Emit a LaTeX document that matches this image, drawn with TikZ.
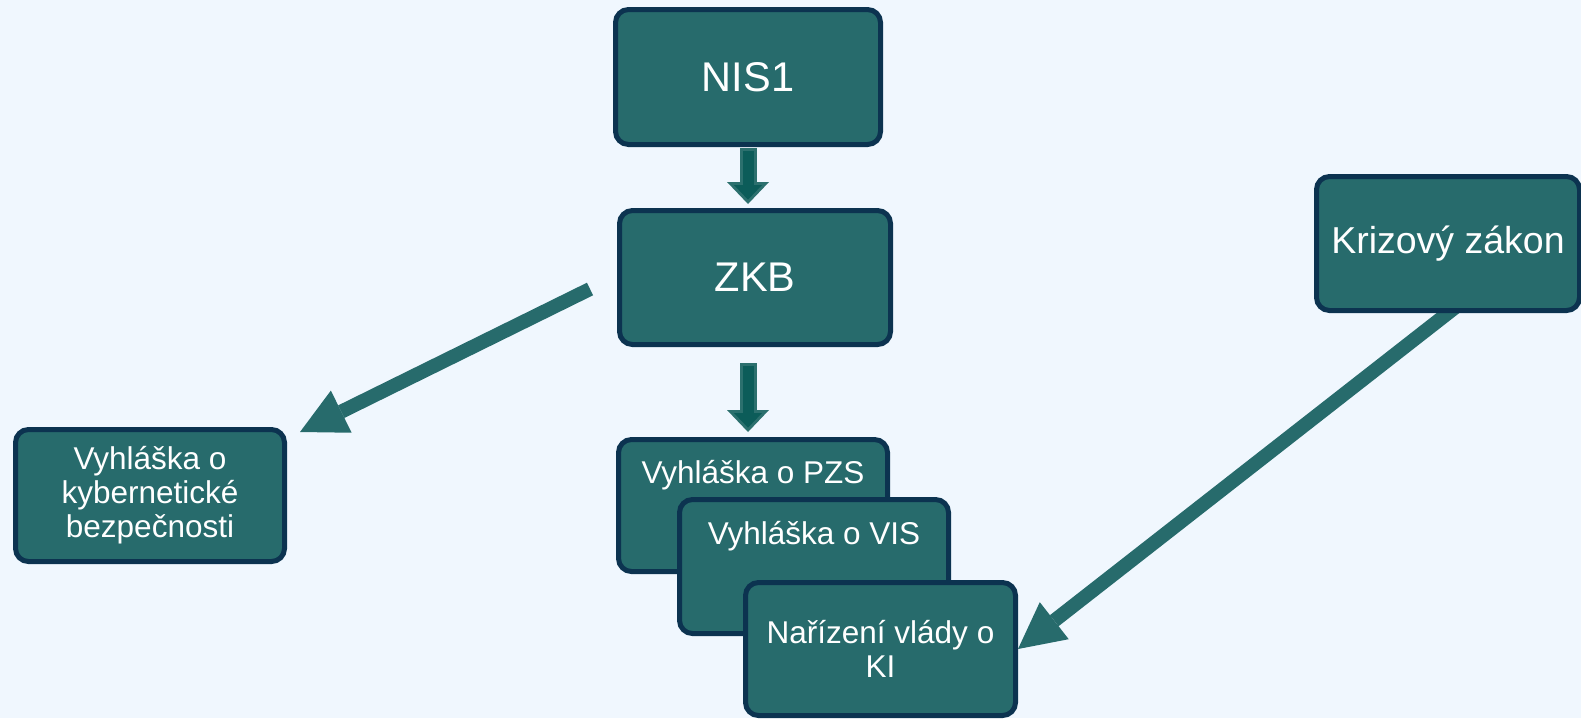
\documentclass[tikz,border=0pt]{standalone}
\usepackage{fontspec}
\setmainfont{Liberation Sans}
\usetikzlibrary{arrows.meta,calc}

\definecolor{pagebg}{RGB}{240,247,254}
\definecolor{boxfill}{RGB}{39,107,108}
\definecolor{boxline}{RGB}{12,51,80}
\definecolor{arrowdark}{RGB}{12,92,89}
\definecolor{arrowlight}{RGB}{44,112,110}

\pgfdeclarelayer{back}
\pgfsetlayers{back,main}

\tikzset{
  lawbox/.style={draw=boxline, fill=boxfill, line width=5pt, rounded corners=13pt,
                 text=white, align=center, inner sep=0pt},
  bigtext/.style={font=\fontsize{41.5}{50}\selectfont},
  midtext/.style={font=\fontsize{37.5}{42}\selectfont},
  smalltext/.style={font=\fontsize{31.5}{34}\selectfont},
  boxlabel/.style={text=white, inner sep=0pt, anchor=base, font=\fontsize{31.5}{34}\selectfont},
  bigarrow/.style={draw=boxfill, line width=14pt,
                   -{Triangle[width=47pt,length=46pt,line width=0pt]}},
  stepout/.style={draw=arrowlight, line width=17pt,
                  -{Triangle[width=42pt,length=22pt,line width=0pt]}},
  stepin/.style={draw=arrowdark, line width=11pt,
                 -{Triangle[width=28pt,length=14.7pt,line width=0pt]}},
}

\begin{document}
\begin{tikzpicture}[x=1pt,y=-1pt]
\useasboundingbox (0,0) rectangle (1581,718);
\begin{pgfonlayer}{back}
  \fill[pagebg] (0,0) rectangle (1581,718);
\end{pgfonlayer}

% top chain
\node[lawbox, bigtext, minimum width=265pt, minimum height=135pt] (nis) at (748,77) {NIS1};
\node[lawbox, bigtext, minimum width=271pt, minimum height=134pt] (zkb) at (755,277.5) {ZKB};

% decree on cyber security
\node[lawbox, smalltext, minimum width=269pt, minimum height=132pt] (kyb) at (150,495.5)
  {Vyhláška o\\kybernetické\\bezpečnosti};

% crisis act
\node[lawbox, midtext, minimum width=263pt, minimum height=134pt] (kriz) at (1448,243.5) {Krizový zákon};

% stacked decrees
\node[lawbox, minimum width=269pt, minimum height=132pt] (pzs) at (753,505.5) {};
\node[boxlabel] (pzs-t) at ($(pzs.north)+(0,46)$) {Vyhláška o PZS};
\node[lawbox, minimum width=269pt, minimum height=134pt] (vis) at (814,566.5) {};
\node[boxlabel] (vis-t) at ($(vis.north)+(0,47)$) {Vyhláška o VIS};
\node[lawbox, smalltext, minimum width=270pt, minimum height=133pt] (nar) at (880.5,649)
  {Nařízení vlády o\\KI};

% block arrows down the chain
\draw[stepout, shorten <=1pt, shorten >=4pt] (nis.south) -- (nis.south |- zkb.north);
\draw[stepin, shorten <=4pt, shorten >=8.3pt] (nis.south) -- (nis.south |- zkb.north);
\draw[stepout, shorten <=16pt, shorten >=5pt] (nis.south |- zkb.south) -- (nis.south |- pzs.north);
\draw[stepin, shorten <=19pt, shorten >=9.3pt] (nis.south |- zkb.south) -- (nis.south |- pzs.north);

% long arrows
\draw[bigarrow] ($(zkb.west)+(-27,11.5)$) -- ($(kyb.north east)+(13,5)$);
\begin{pgfonlayer}{back}
  \draw[bigarrow] ($(nar.east)!1.05!(kriz.south)$) -- (nar.east);
\end{pgfonlayer}
\end{tikzpicture}
\end{document}
